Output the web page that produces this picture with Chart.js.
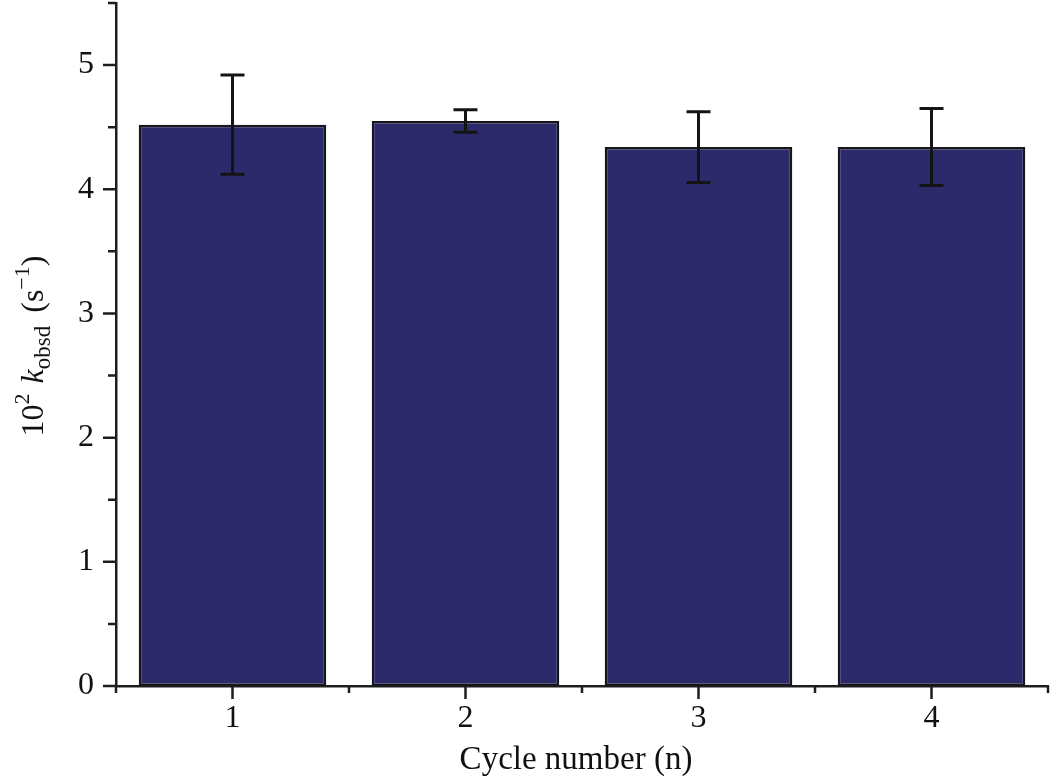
<!DOCTYPE html>
<html>
<head>
<meta charset="utf-8">
<script src="https://cdn.jsdelivr.net/npm/chart.js@4.4.1/dist/chart.umd.min.js"></script>
<style>
html,body{margin:0;padding:0;background:#fff;}
#wrap{width:1056px;height:780px;position:relative;}
</style>
</head>
<body>
<div id="wrap"><canvas id="c"></canvas></div>
<script>
const categories = ['1', '2', '3', '4'];
const kobsValues = [4.52, 4.55, 4.34, 4.34];
const kobsErrors = [0.40, 0.09, 0.285, 0.31];
const yTickValues = [0, 1, 2, 3, 4, 5];
const xTitle = 'Cycle number (n)';

const FONT = '"Liberation Serif", "Times New Roman", serif';
const AXIS_COLOR = '#1e1e1e';

const errorBarPlugin = {
  id: 'errorBars',
  afterDatasetsDraw(chart) {
    const ctx = chart.ctx;
    const meta = chart.getDatasetMeta(0);
    const y = chart.scales.y;
    ctx.save();
    ctx.strokeStyle = '#141414';
    ctx.lineWidth = 3;
    meta.data.forEach((bar, i) => {
      const x = bar.x;
      const top = y.getPixelForValue(kobsValues[i] + kobsErrors[i]);
      const bot = y.getPixelForValue(kobsValues[i] - kobsErrors[i]);
      ctx.beginPath();
      ctx.moveTo(x, top); ctx.lineTo(x, bot);
      ctx.moveTo(x - 12, top); ctx.lineTo(x + 12, top);
      ctx.moveTo(x - 12, bot); ctx.lineTo(x + 12, bot);
      ctx.stroke();
    });
    ctx.restore();
  }
};

const axisTicksPlugin = {
  id: 'axisTicks',
  afterDraw(chart) {
    const ctx = chart.ctx;
    const {x, y} = chart.scales;
    const area = chart.chartArea;
    ctx.save();
    ctx.strokeStyle = AXIS_COLOR;
    ctx.lineWidth = 2.5;
    ctx.beginPath();
    for (let v = 0; v <= y.max + 1e-9; v += 0.5) {
      const py = y.getPixelForValue(v);
      const major = Math.abs(v - Math.round(v)) < 1e-9;
      ctx.moveTo(area.left - (major ? 13 : 8), py);
      ctx.lineTo(area.left, py);
    }
    for (let v = -0.5; v <= categories.length - 0.5 + 1e-9; v += 0.5) {
      const px = x.getPixelForValue(v);
      const major = Math.abs(v - Math.round(v)) < 1e-9;
      ctx.moveTo(px, area.bottom);
      ctx.lineTo(px, area.bottom + (major ? 13 : 7));
    }
    ctx.stroke();
    ctx.restore();

    // x axis title
    ctx.save();
    ctx.fillStyle = '#111';
    ctx.font = '33px ' + FONT;
    ctx.textAlign = 'center';
    ctx.textBaseline = 'alphabetic';
    ctx.fillText(xTitle, 576, 769);
    ctx.restore();

    // y axis title with super/subscripts
    ctx.save();
    ctx.fillStyle = '#111';
    ctx.textBaseline = 'alphabetic';
    const parts = [
      {t: '10', f: '32px ' + FONT, dy: 0},
      {t: '2', f: '22px ' + FONT, dy: -14},
      {t: ' ', f: '32px ' + FONT, dy: 0, w: 10},
      {t: 'k', f: 'italic 32px ' + FONT, dy: 0},
      {t: 'obsd', f: '23px ' + FONT, dy: 7},
      {t: ' ', f: '32px ' + FONT, dy: 0, w: 13},
      {t: '(s', f: '32px ' + FONT, dy: 0},
      {t: '\u22121', f: '22px ' + FONT, dy: -14},
      {t: ')', f: '32px ' + FONT, dy: 0}
    ];
    let total = 0;
    parts.forEach(p => { ctx.font = p.f; if (p.w === undefined) p.w = ctx.measureText(p.t).width; total += p.w; });
    ctx.translate(43, 346);
    ctx.rotate(-Math.PI / 2);
    let cx = -total / 2;
    parts.forEach(p => {
      ctx.font = p.f;
      if (p.t.trim()) ctx.fillText(p.t, cx, p.dy);
      cx += p.w;
    });
    ctx.restore();
  }
};

new Chart(document.getElementById('c'), {
  type: 'bar',
  data: {
    labels: categories,
    datasets: [{
      data: kobsValues,
      backgroundColor: '#2d2a6b',
      borderColor: '#16161c',
      borderWidth: 2.5,
      borderSkipped: false,
      categoryPercentage: 1.0,
      barPercentage: 0.805
    }]
  },
  options: {
    responsive: true,
    maintainAspectRatio: false,
    animation: false,
    layout: {padding: {top: 3, right: 8, left: 0, bottom: 0}},
    plugins: {legend: {display: false}, tooltip: {enabled: false}},
    scales: {
      x: {
        offset: true,
        grid: {display: false, drawTicks: false},
        border: {display: true, color: AXIS_COLOR, width: 2.5},
        ticks: {color: '#111', font: {family: FONT, size: 32}, padding: 13, maxRotation: 0},
        afterFit(s) { s.height = 94; s.paddingLeft = 0; s.paddingRight = 0; }
      },
      y: {
        min: 0,
        max: 5.5,
        grid: {display: false, drawTicks: false},
        border: {display: true, color: AXIS_COLOR, width: 2.5},
        afterBuildTicks(s) { s.ticks = yTickValues.map(v => ({value: v})); },
        ticks: {color: '#111', font: {family: FONT, size: 32}, padding: 22},
        afterFit(s) { s.width = 116; s.paddingTop = 0; s.paddingBottom = 0; }
      }
    }
  },
  plugins: [errorBarPlugin, axisTicksPlugin]
});
</script>
</body>
</html>
